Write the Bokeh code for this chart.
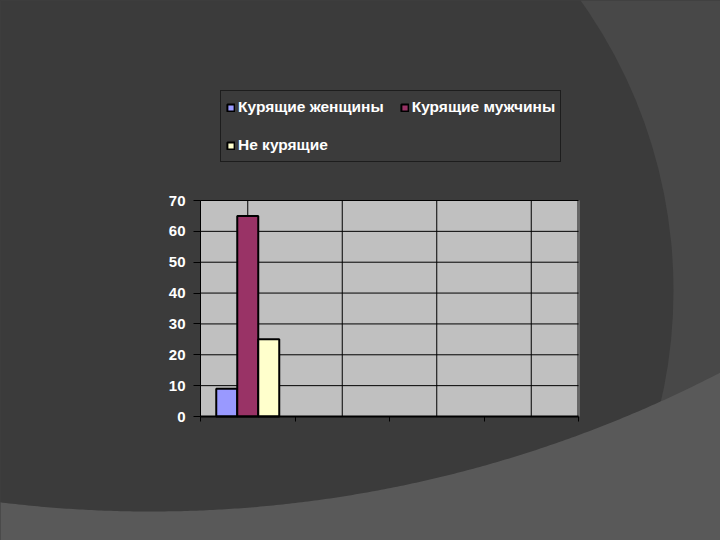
import numpy as np
from bokeh.plotting import figure
from bokeh.models import Range1d, LinearAxis, FixedTicker, Legend, LegendItem
from bokeh.embed import file_html
from bokeh.resources import INLINE

# ---------------- data ----------------
categories = ["", "", "", ""]
series_names = ["Курящие женщины", "Курящие мужчины", "Не курящие"]
women = [9]
men = [65]
non_smokers = [25]
y_ticks = [0, 10, 20, 30, 40, 50, 60, 70]
series_colors = ["#9999ff", "#993366", "#ffffcc"]

# ---------------- geometry (page pixels) ----------------
W, H = 720, 540
PL, PR, PT, PB = 200, 578, 200, 416   # chart area edges on the page
Y_MAX = y_ticks[-1]
NCAT = len(categories)
sx = (PR - PL) / NCAT
sy = (PB - PT) / Y_MAX


def X(px):
    return (px - PL) / sx


def Y(py):
    return (PB - py) / sy


DARK, MID, LIGHT = "#3b3b3b", "#484848", "#595959"

p = figure(width=W, height=H, output_backend="svg", toolbar_location=None,
           x_range=Range1d(X(0), X(W)),
           y_range=Range1d(Y(H), Y(0)),
           x_axis_type=None, y_axis_type=None, min_border=0,
           background_fill_color=MID, border_fill_color=MID)
p.outline_line_color = None

# ---------------- slide decoration ----------------
cx1, cy1, r1 = 174, 290, 499
p.ellipse(x=[X(cx1)], y=[Y(cy1)], width=[2 * r1 / sx], height=[2 * r1 / sy],
          fill_color=DARK, line_color=None)
cx2, cy2, r2 = 150, -727, 1238
bx = np.linspace(-20, 740, 240)
by = cy2 + np.sqrt(r2 ** 2 - (bx - cx2) ** 2)
poly_x = np.concatenate([bx, [740, -20]])
poly_y = np.concatenate([by, [560, 560]])
p.patch(X(poly_x), Y(poly_y), fill_color=LIGHT, line_color=None)

# ---------------- chart area ----------------
p.quad(left=[0], right=[NCAT], bottom=[0], top=[Y_MAX],
       fill_color="#c0c0c0", line_color=None)
p.segment(x0=[NCAT], x1=[NCAT], y0=[0], y1=[Y_MAX], line_color="#666666", line_width=3)

grid_y = y_ticks[1:]
p.segment(x0=[0] * len(grid_y), x1=[NCAT] * len(grid_y), y0=grid_y, y1=grid_y,
          line_color="black", line_width=1)
grid_x = [i + 0.5 for i in range(NCAT)]
p.segment(x0=grid_x, x1=grid_x, y0=[0] * NCAT, y1=[Y_MAX] * NCAT,
          line_color="black", line_width=1)

# ---------------- bars ----------------
bar_w = 1 / 4.5
series = [women, men, non_smokers]
renderers = []
for k, (vals, col) in enumerate(zip(series, series_colors)):
    xs = [i + 0.5 + (k - 1) * bar_w for i in range(len(vals))]
    r = p.vbar(x=xs, top=vals, width=bar_w, bottom=0, fill_color=col,
               line_color="black", line_width=2)
    renderers.append(r)

# ---------------- axes ----------------
yaxis = LinearAxis(fixed_location=0, bounds=(0, Y_MAX), ticker=FixedTicker(ticks=y_ticks),
                   axis_line_color="black", axis_line_width=1,
                   major_tick_out=7, major_tick_in=0, major_tick_line_color="black",
                   minor_tick_out=0, minor_tick_in=0,
                   major_label_standoff=8, major_label_text_color="white",
                   major_label_text_font="Liberation Sans",
                   major_label_text_font_style="bold",
                   major_label_text_font_size="15px")
p.add_layout(yaxis, "left")

x_tick_pos = list(range(NCAT + 1))
xaxis = LinearAxis(fixed_location=0, bounds=(0, NCAT), ticker=FixedTicker(ticks=x_tick_pos),
                   axis_line_color="black", axis_line_width=2,
                   major_tick_out=5, major_tick_in=0, major_tick_line_color="black",
                   minor_tick_out=0, minor_tick_in=0,
                   major_label_overrides={t: "" for t in x_tick_pos},
                   major_label_text_font_size="1px")
p.add_layout(xaxis, "below")

# ---------------- legend ----------------
items = [LegendItem(label=n, renderers=[r]) for n, r in zip(series_names, renderers)]
legend = Legend(items=items, location=(220, H - 162),
                orientation="horizontal", ncols=2,
                background_fill_color=DARK, background_fill_alpha=1,
                border_line_color="black", border_line_width=1,
                label_text_color="white", label_text_font="Liberation Sans",
                label_text_font_style="bold", label_text_font_size="15.5px",
                glyph_width=9, glyph_height=9, label_standoff=3,
                label_height=22, spacing=16, padding=5, margin=0)
p.add_layout(legend, "center")

html = file_html(p, INLINE, title="Курящие")
html = html.replace("</head>", "<style>html,body{background:%s;}</style></head>" % DARK, 1)
open("out.html", "w").write(html)
